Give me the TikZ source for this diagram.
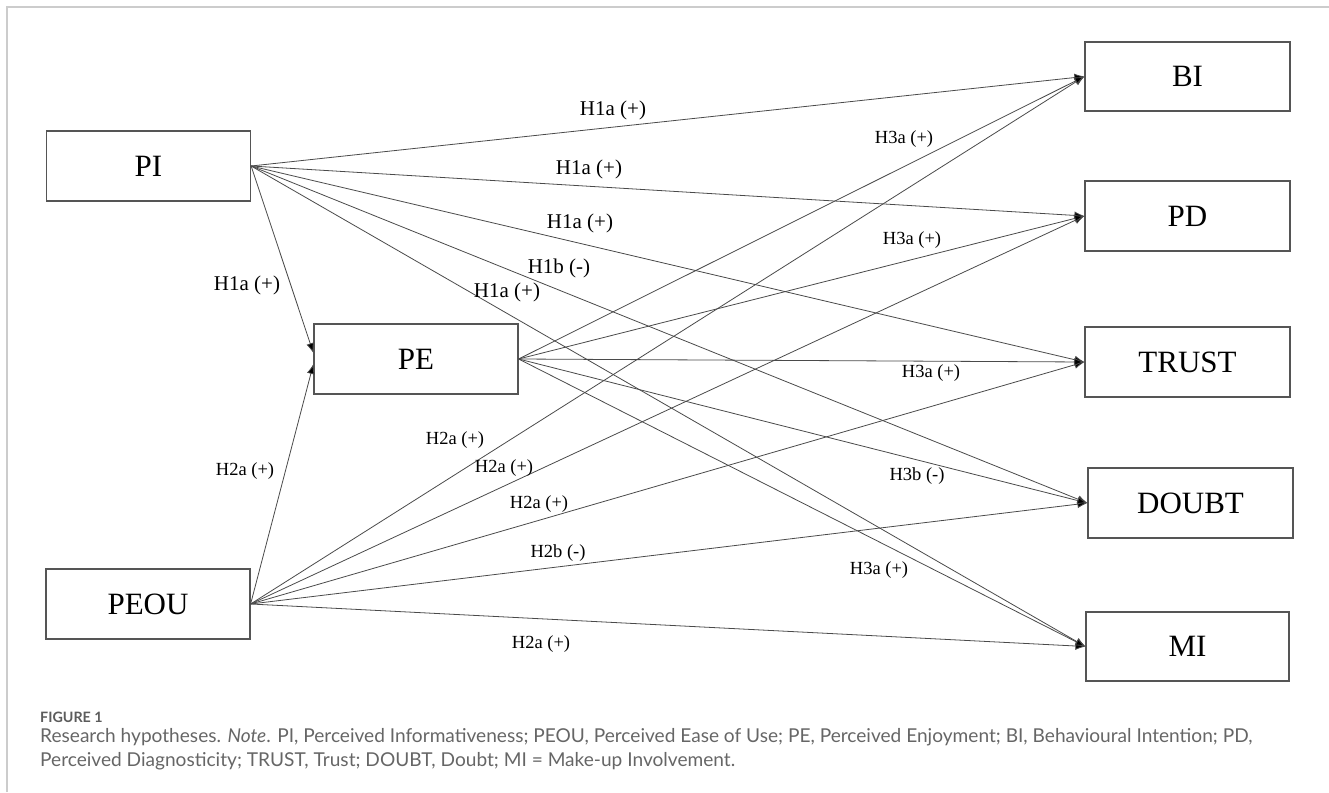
\documentclass[tikz,border=0pt]{standalone}
\usepackage{fontspec}
\setmainfont{Liberation Serif}
\newfontfamily\capfont{Lato}
\usetikzlibrary{arrows.meta}
\definecolor{boxc}{HTML}{555555}
\definecolor{linec}{HTML}{4A4A4A}
\definecolor{capc}{HTML}{666666}
\definecolor{framec}{HTML}{CCCCCC}
\tikzset{
  var/.style={draw=boxc, line width=1.2pt, minimum width=204pt, minimum height=70pt, inner sep=0pt, font=\fontsize{31}{31}\selectfont},
  path/.style={draw=linec, line width=0.8pt, -{Latex[length=10pt,width=8pt,fill=black]}},
  hbig/.style={font=\fontsize{21}{21}\selectfont, inner sep=0pt},
  hsmall/.style={font=\fontsize{18.5}{18.5}\selectfont, inner sep=0pt},
  captxt/.style={anchor=base west, inner sep=0pt, text=capc, font=\capfont\fontsize{19.1}{19.1}\selectfont}
}
\begin{document}
\begin{tikzpicture}[x=1pt,y=-1pt]
\useasboundingbox (0,0) rectangle (1329,792);
\draw[framec, line width=1.2pt] (7,792) -- (7,7) -- (1329,7);

\node[var] (PI) at (148.5,166) {PI};
\node[var] (PEOU) at (148,604) {PEOU};
\node[var] (PE) at (416,359) {PE};
\node[var, minimum width=205pt, minimum height=69pt] (BI) at (1187.5,76.5) {BI};
\node[var, minimum width=205pt] (PD) at (1187.5,216) {PD};
\node[var, minimum width=205pt] (TRUST) at (1187.5,362) {TRUST};
\node[var, minimum width=205pt] (DOUBT) at (1190.5,503) {DOUBT};
\node[var, minimum width=203pt, minimum height=69pt] (MI) at (1187.5,646.5) {MI};

% PI paths
\draw[path] (PI.east) -- (BI.west);
\draw[path] (PI.east) -- (PD.west);
\draw[path] (PI.east) -- (TRUST.west);
\draw[path] (PI.east) -- (DOUBT.west);
\draw[path] (PI.east) -- (MI.west);
\draw[path] (PI.east) -- ([yshift=6pt]PE.west);
% PEOU paths
\draw[path] (PEOU.east) -- ([yshift=-5pt]PE.west);
\draw[path] (PEOU.east) -- (BI.west);
\draw[path] (PEOU.east) -- (PD.west);
\draw[path] (PEOU.east) -- (TRUST.west);
\draw[path] (PEOU.east) -- (DOUBT.west);
\draw[path] (PEOU.east) -- (MI.west);
% PE paths
\draw[path] (PE.east) -- (BI.west);
\draw[path] (PE.east) -- (PD.west);
\draw[path] (PE.east) -- (TRUST.west);
\draw[path] (PE.east) -- (DOUBT.west);
\draw[path] (PE.east) -- (MI.west);

% H1 labels
\node[hbig] (l1) at (613,110) {H1a (+)};
\node[hbig] (l2) at (589,169) {H1a (+)};
\node[hbig] (l3) at (580,223) {H1a (+)};
\node[hbig] (l4) at (559,268) {H1b (-)};
\node[hbig] (l5) at (507,292) {H1a (+)};
\node[hbig] (l6) at (247,285) {H1a (+)};
% H3 labels
\node[hsmall] (l7) at (904,139) {H3a (+)};
\node[hsmall] (l8) at (912,240) {H3a (+)};
\node[hsmall] (l9) at (931,373) {H3a (+)};
\node[hsmall] (l10) at (917,476) {H3b (-)};
\node[hsmall] (l11) at (879,570) {H3a (+)};
% H2 labels
\node[hsmall] (l12) at (245,471) {H2a (+)};
\node[hsmall] (l13) at (455,440) {H2a (+)};
\node[hsmall] (l14) at (504,468) {H2a (+)};
\node[hsmall] (l15) at (539,504) {H2a (+)};
\node[hsmall] (l16) at (558,553) {H2b (-)};
\node[hsmall] (l17) at (541,644) {H2a (+)};

% caption
\node[captxt, font=\capfont\bfseries\fontsize{14.3}{14.3}\selectfont, text=capc!90!black] (fig) at (40,722) {FIGURE 1};
\node[captxt] (cap1) at (40,742) {Research hypotheses. \textit{Note}. PI, Perceived Informativeness; PEOU, Perceived Ease of Use; PE, Perceived Enjoyment; BI, Behavioural Intention; PD,};
\node[captxt] (cap2) at (40,766) {Perceived Diagnosticity; TRUST, Trust; DOUBT, Doubt; MI = Make-up Involvement.};
\end{tikzpicture}
\end{document}
